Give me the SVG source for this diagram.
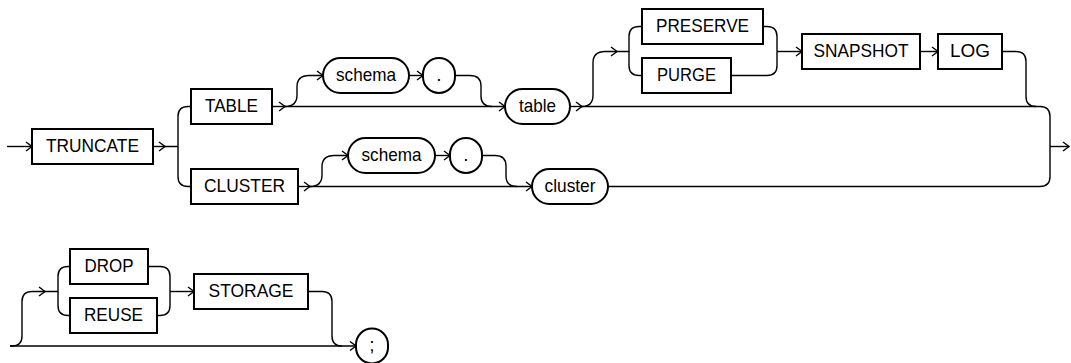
<svg xmlns="http://www.w3.org/2000/svg" width="1071" height="363" viewBox="0 0 1071 363">
<style>
.box{fill:#fff;stroke:#000;stroke-width:2}
.t{font-family:"Liberation Sans",Arial,sans-serif;font-size:19px;fill:#000;text-anchor:middle}
.c{fill:none;stroke:#000;stroke-width:1.4}
.a{marker-end:url(#arr)}
</style>
<defs>
<marker id="arr" viewBox="-8 -6 10 12" refX="0" refY="0" markerWidth="10" markerHeight="12" markerUnits="userSpaceOnUse" orient="auto">
<path d="M-6,-4.5 L0,0 L-6,4.5" fill="none" stroke="#000" stroke-width="1.4"/>
</marker>
</defs>
<rect width="1071" height="363" fill="#fff"/>
<g id="connectors">
<path class="c a" d="M7,146.5 H32"/>
<path class="c a" d="M153,146.5 H165"/>
<path class="c" d="M165,146.5 H178 V116.5 Q178,106.5 188,106.5 H191"/>
<path class="c" d="M178,146.5 V176.5 Q178,186.5 188,186.5 H191"/>
<path class="c a" d="M272,106.5 H285"/>
<path class="c a" d="M285,106.5 H505"/>
<path class="c a" d="M285,106.5 Q297,106.5 297,95 V87 Q297,75.5 309,75.5 H323"/>
<path class="c a" d="M409,75.5 H423"/>
<path class="c" d="M455,75.5 H470 Q481,75.5 481,86 V96 Q481,106.5 492,106.5"/>
<path class="c a" d="M570,106.5 H582"/>
<path class="c" d="M582,106.5 H1040 Q1050,106.5 1050,116.5 V176.5 Q1050,186.5 1040,186.5 H608"/>
<path class="c a" d="M1050,146.5 H1069"/>
<path class="c a" d="M582,106.5 Q593,106.5 593,95 V63 Q593,51.5 605,51.5 H617"/>
<path class="c" d="M617,51.5 H629 V36.5 Q629,26.5 639,26.5 H642"/>
<path class="c" d="M629,51.5 V65.5 Q629,75.5 639,75.5 H642"/>
<path class="c" d="M763,26.5 H767 Q777,26.5 777,36.5 V51.5"/>
<path class="c" d="M731,75.5 H767 Q777,75.5 777,65.5 V51.5"/>
<path class="c a" d="M777,51.5 H802"/>
<path class="c a" d="M920,51.5 H938"/>
<path class="c" d="M1002,51.5 H1016 Q1026,51.5 1026,61.5 V96.5 Q1026,106.5 1036,106.5"/>
<path class="c a" d="M298,186.5 H310"/>
<path class="c a" d="M310,186.5 H532"/>
<path class="c a" d="M310,186.5 Q322,186.5 322,175 V167 Q322,155.5 334,155.5 H348"/>
<path class="c a" d="M435,155.5 H450"/>
<path class="c" d="M482,155.5 H495 Q506,155.5 506,166 V176 Q506,186.5 517,186.5"/>
<path class="c a" d="M10,346 H356"/>
<path class="c a" d="M10,346 H12 Q22,346 22,336 V301.5 Q22,291.5 32,291.5 H45"/>
<path class="c" d="M45,291.5 H58 V276.5 Q58,266.5 68,266.5 H70"/>
<path class="c" d="M58,291.5 V305.5 Q58,315.5 68,315.5 H70"/>
<path class="c" d="M148,266.5 H160 Q170,266.5 170,276.5 V291.5"/>
<path class="c" d="M157,315.5 H160 Q170,315.5 170,305.5 V291.5"/>
<path class="c a" d="M170,291.5 H194"/>
<path class="c" d="M308,291.5 H322 Q332,291.5 332,301.5 V336 Q332,346 342,346"/>
</g>
<g id="truncate"><rect class="box" x="32" y="129" width="121" height="35"/><text class="t" x="92.5" y="151.5" textLength="93" lengthAdjust="spacingAndGlyphs">TRUNCATE</text></g>
<g id="table-kw"><rect class="box" x="191" y="89" width="81" height="35"/><text class="t" x="231.5" y="111.5" textLength="53" lengthAdjust="spacingAndGlyphs">TABLE</text></g>
<g id="cluster-kw"><rect class="box" x="191" y="169" width="107" height="35"/><text class="t" x="244.5" y="191.5" textLength="81" lengthAdjust="spacingAndGlyphs">CLUSTER</text></g>
<g id="schema1"><rect class="box" x="323" y="58" width="86" height="35" rx="17.5"/><text class="t" x="366" y="80.5" textLength="60" lengthAdjust="spacingAndGlyphs">schema</text></g>
<g id="dot1"><rect class="box" x="423" y="58" width="32" height="35" rx="16"/><text class="t" x="439" y="80.5">.</text></g>
<g id="table"><rect class="box" x="505" y="89" width="65" height="35" rx="17.5"/><text class="t" x="537.5" y="111.5" textLength="37" lengthAdjust="spacingAndGlyphs">table</text></g>
<g id="preserve"><rect class="box" x="642" y="9" width="121" height="35"/><text class="t" x="702.5" y="31.5" textLength="93" lengthAdjust="spacingAndGlyphs">PRESERVE</text></g>
<g id="purge"><rect class="box" x="642" y="58" width="89" height="35"/><text class="t" x="686.5" y="80.5" textLength="59" lengthAdjust="spacingAndGlyphs">PURGE</text></g>
<g id="snapshot"><rect class="box" x="802" y="34" width="118" height="35"/><text class="t" x="861" y="56.5" textLength="95" lengthAdjust="spacingAndGlyphs">SNAPSHOT</text></g>
<g id="log"><rect class="box" x="938" y="34" width="64" height="35"/><text class="t" x="970" y="56.5" textLength="40" lengthAdjust="spacingAndGlyphs">LOG</text></g>
<g id="schema2"><rect class="box" x="348" y="138" width="87" height="35" rx="17.5"/><text class="t" x="391.5" y="160.5" textLength="60" lengthAdjust="spacingAndGlyphs">schema</text></g>
<g id="dot2"><rect class="box" x="450" y="138" width="32" height="35" rx="16"/><text class="t" x="466" y="160.5">.</text></g>
<g id="cluster"><rect class="box" x="532" y="169" width="76" height="35" rx="17.5"/><text class="t" x="570" y="191.5" textLength="51" lengthAdjust="spacingAndGlyphs">cluster</text></g>
<g id="drop"><rect class="box" x="70" y="249" width="78" height="35"/><text class="t" x="109" y="271.5" textLength="49" lengthAdjust="spacingAndGlyphs">DROP</text></g>
<g id="reuse"><rect class="box" x="70" y="298" width="87" height="35"/><text class="t" x="113.5" y="320.5" textLength="59" lengthAdjust="spacingAndGlyphs">REUSE</text></g>
<g id="storage"><rect class="box" x="194" y="274" width="114" height="35"/><text class="t" x="251" y="296.5" textLength="85" lengthAdjust="spacingAndGlyphs">STORAGE</text></g>
<g id="semicolon"><rect class="box" x="356" y="328.5" width="32" height="35" rx="16"/><text class="t" x="372" y="351">;</text></g>
</svg>
